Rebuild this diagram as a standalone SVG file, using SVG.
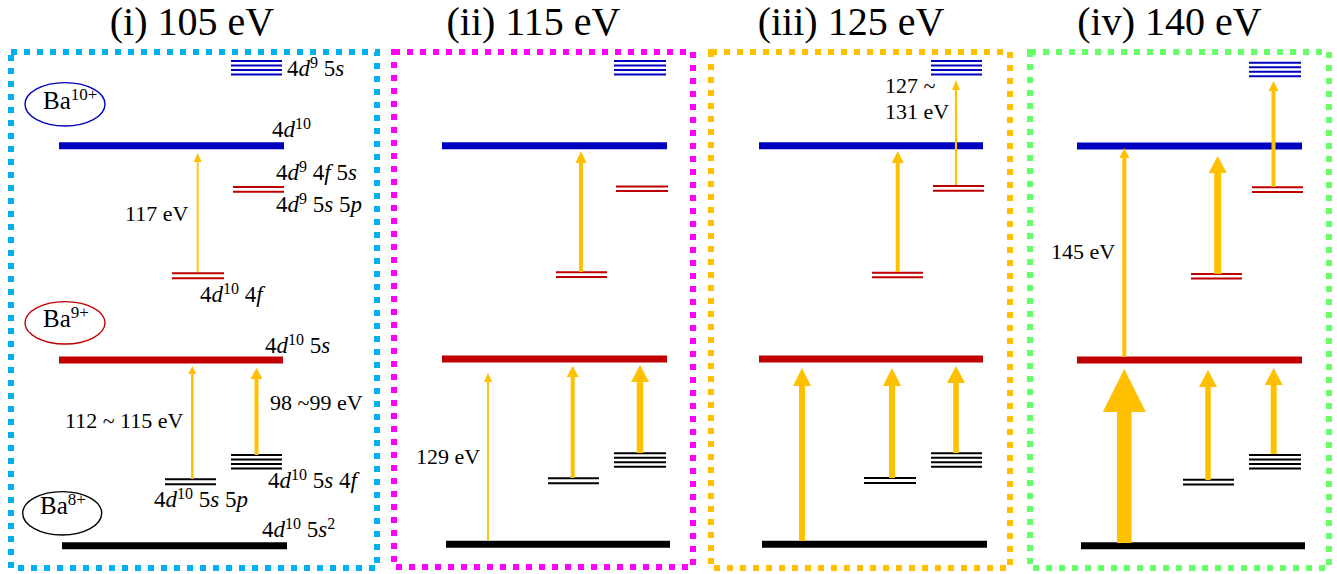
<svg xmlns="http://www.w3.org/2000/svg" width="1337" height="574" viewBox="0 0 1337 574" font-family="'Liberation Serif', 'DejaVu Serif', 'Times New Roman', serif">
<style>
text{font-family:'Liberation Serif','DejaVu Serif','Times New Roman',serif;fill:#000}
.title{font-size:40px;text-anchor:middle}
.lbl{font-size:22px}
.cfg{font-size:23px}
.ba{font-size:25px}
.i{font-style:italic}
.sup{font-size:16px}
.bsup{font-size:17px}
.frame{fill:none;stroke-width:6;stroke-dasharray:6 7}
.bar{stroke-width:7;fill:none}
.thin{stroke-width:2;fill:none}
.blue{stroke:#0000c0}
.red{stroke:#c00000}
.blk{stroke:#000}
.arr{fill:#ffc000;stroke:none}
.ell{fill:none;stroke-width:1.4}
</style>
<rect width="1337" height="574" fill="#fff"/>

<g id="titles">
<text class="title" x="192" y="35">(i) 105 eV</text>
<text class="title" x="533.5" y="35">(ii) 115 eV</text>
<text class="title" x="851" y="35">(iii) 125 eV</text>
<text class="title" x="1169.5" y="35">(iv) 140 eV</text>
</g>

<g id="frames">
<rect class="frame" x="11" y="52" width="366" height="516" stroke="#00b0f0"/>
<rect class="frame" x="394" y="52" width="299" height="515" stroke="#ff00ff"/>
<rect class="frame" x="711" y="52" width="299" height="516" stroke="#ffc000"/>
<rect class="frame" x="1030" y="52" width="299" height="516" stroke="#66ff66"/>
</g>

<g id="panel-i">
<g id="ion-ba10"><ellipse class="ell" cx="65" cy="104.3" rx="40" ry="21.7" stroke="#0000c0"/><text class="ba" x="43" y="109">Ba<tspan class="bsup" dy="-9">10+</tspan></text></g>
<g id="ion-ba9"><ellipse class="ell" cx="65" cy="322.8" rx="40" ry="21.2" stroke="#c00000"/><text class="ba" x="43" y="327">Ba<tspan class="bsup" dy="-9">9+</tspan></text></g>
<g id="ion-ba8"><ellipse class="ell" cx="62.2" cy="513.3" rx="39.5" ry="21.7" stroke="#000"/><text class="ba" x="40" y="514">Ba<tspan class="bsup" dy="-9">8+</tspan></text></g>

<g id="i-4d9-5s"><path class="thin blue" d="M231 61H282M231 65.5H282M231 70H282M231 74.5H282"/>
<text class="cfg" x="287" y="76">4<tspan class="i">d</tspan><tspan class="sup" dy="-8">9</tspan><tspan dy="8"> 5</tspan><tspan class="i">s</tspan></text></g>
<g id="i-4d10"><path class="bar blue" d="M59 145.7H284"/><text class="cfg" x="272" y="137">4<tspan class="i">d</tspan><tspan class="sup" dy="-8">10</tspan></text></g>
<g id="i-4d9-4f5s"><path class="thin red" d="M233 187H284M233 191.7H284"/>
<text class="cfg" x="276" y="180">4<tspan class="i">d</tspan><tspan class="sup" dy="-8">9</tspan><tspan dy="8"> 4</tspan><tspan class="i">f</tspan> 5<tspan class="i">s</tspan></text>
<text class="cfg" x="276" y="212">4<tspan class="i">d</tspan><tspan class="sup" dy="-8">9</tspan><tspan dy="8"> 5</tspan><tspan class="i">s</tspan> 5<tspan class="i">p</tspan></text></g>
<g id="i-4d10-4f"><path class="thin red" d="M172 273.3H224M172 278.3H224"/>
<text class="cfg" x="200" y="302">4<tspan class="i">d</tspan><tspan class="sup" dy="-8">10</tspan><tspan dy="8"> 4</tspan><tspan class="i">f</tspan></text></g>
<g id="i-4d10-5s"><path class="bar red" d="M59 360H283"/>
<text class="cfg" x="265" y="353">4<tspan class="i">d</tspan><tspan class="sup" dy="-8">10</tspan><tspan dy="8"> 5</tspan><tspan class="i">s</tspan></text></g>
<g id="i-4d10-5s4f"><path class="thin blk" d="M231 455H282M231 459.5H282M231 464H282M231 468.5H282"/>
<text class="cfg" x="268" y="488">4<tspan class="i">d</tspan><tspan class="sup" dy="-8">10</tspan><tspan dy="8"> 5</tspan><tspan class="i">s</tspan> 4<tspan class="i">f</tspan></text></g>
<g id="i-4d10-5s5p"><path class="thin blk" d="M165 479.3H216M165 484.3H216"/>
<text class="cfg" x="154" y="507">4<tspan class="i">d</tspan><tspan class="sup" dy="-8">10</tspan><tspan dy="8"> 5</tspan><tspan class="i">s</tspan> 5<tspan class="i">p</tspan></text></g>
<g id="i-4d10-5s2"><path class="bar blk" d="M62 545.7H287"/>
<text class="cfg" x="262" y="537">4<tspan class="i">d</tspan><tspan class="sup" dy="-8">10</tspan><tspan dy="8"> 5</tspan><tspan class="i">s</tspan><tspan class="sup" dy="-8">2</tspan></text></g>
</g>

<g id="panel-ii">
<g id="ii-4d9-5s"><path class="thin blue" d="M614 61H666M614 65.5H666M614 70H666M614 74.5H666"/></g>
<g id="ii-4d10"><path class="bar blue" d="M442 145.7H667"/></g>
<g id="ii-4d9-4f5s"><path class="thin red" d="M616 186.5H668M616 191H668"/></g>
<g id="ii-4d10-4f"><path class="thin red" d="M556 272.3H607M556 277H607"/></g>
<g id="ii-4d10-5s"><path class="bar red" d="M442 359H667"/></g>
<g id="ii-4d10-5s4f"><path class="thin blk" d="M614 453.3H666M614 457.8H666M614 462.3H666M614 466.8H666"/></g>
<g id="ii-4d10-5s5p"><path class="thin blk" d="M548 478.3H599M548 483.3H599"/></g>
<g id="ii-4d10-5s2"><path class="bar blk" d="M446 544.3H670"/></g>
</g>

<g id="panel-iii">
<g id="iii-4d9-5s"><path class="thin blue" d="M931 61H982M931 65.5H982M931 70H982M931 74.5H982"/></g>
<g id="iii-4d10"><path class="bar blue" d="M759 145.7H983"/></g>
<g id="iii-4d9-4f5s"><path class="thin red" d="M933 186H984M933 190.7H984"/></g>
<g id="iii-4d10-4f"><path class="thin red" d="M872 272.7H923M872 277.2H923"/></g>
<g id="iii-4d10-5s"><path class="bar red" d="M759 359H983"/></g>
<g id="iii-4d10-5s4f"><path class="thin blk" d="M931 453.3H982M931 457.8H982M931 462.3H982M931 466.8H982"/></g>
<g id="iii-4d10-5s5p"><path class="thin blk" d="M864 478H916M864 483H916"/></g>
<g id="iii-4d10-5s2"><path class="bar blk" d="M762 544.3H987"/></g>
</g>

<g id="panel-iv">
<g id="iv-4d9-5s"><path class="thin blue" d="M1249 62.7H1301M1249 67.2H1301M1249 71.7H1301M1249 76.2H1301"/></g>
<g id="iv-4d10"><path class="bar blue" d="M1077 146H1302"/></g>
<g id="iv-4d9-4f5s"><path class="thin red" d="M1252 187.3H1303M1252 192H1303"/></g>
<g id="iv-4d10-4f"><path class="thin red" d="M1191 274H1242M1191 278.5H1242"/></g>
<g id="iv-4d10-5s"><path class="bar red" d="M1077 360H1302"/></g>
<g id="iv-4d10-5s4f"><path class="thin blk" d="M1249 455H1301M1249 459.5H1301M1249 464H1301M1249 468.5H1301"/></g>
<g id="iv-4d10-5s5p"><path class="thin blk" d="M1183 479.7H1234M1183 484.5H1234"/></g>
<g id="iv-4d10-5s2"><path class="bar blk" d="M1081 545.7H1305"/></g>
</g>

<g id="connectors">
<path class="arr" d="M196.8 272V162H193.7L197.7 153L201.7 162H198.6V272Z"/>
<path class="arr" d="M191 479V374H188.3L192.3 366L196.3 374H193.6V479Z"/>
<path class="arr" d="M254.5 455V379H250.5L256.5 368L262.5 379H258.5V455Z"/>
<path class="arr" d="M579 272V163H575.5L581 151L586.5 163H583V272Z"/>
<path class="arr" d="M487.1 541V382H484L488 373L492 382H488.9V541Z"/>
<path class="arr" d="M570.7 478V377H566.7L572.7 366L578.7 377H574.7V478Z"/>
<path class="arr" d="M636.75 453V382H631L640 365L649 382H643.25V453Z"/>
<path class="arr" d="M954.9 185V90H952L956 80L960 90H957.1V185Z"/>
<path class="arr" d="M895.7 272V163H891.7L897.7 151L903.7 163H899.7V272Z"/>
<path class="arr" d="M799 541V386H793L802 368L811 386H805V541Z"/>
<path class="arr" d="M889 478V386H883L892 368L901 386H895V478Z"/>
<path class="arr" d="M953.25 453V383H947L956 366L965 383H958.75V453Z"/>
<path class="arr" d="M1271.5 187V91H1268.5L1273.5 81L1278.5 91H1275.5V187Z"/>
<path class="arr" d="M1214.2 274V173H1208.7L1217.7 156L1226.7 173H1221.2V274Z"/>
<path class="arr" d="M1122.3 357V158H1119.3L1124.3 148L1129.3 158H1126.3V357Z"/>
<path class="arr" d="M1117.05 543V412H1102.8L1124.3 369L1145.8 412H1131.55V543Z"/>
<path class="arr" d="M1205.25 480V387H1199L1208 370L1217 387H1210.75V480Z"/>
<path class="arr" d="M1270.7 454V385H1264.7L1273.7 368L1282.7 385H1276.7V454Z"/>
</g>

<g id="energy-labels">
<text class="lbl" x="125" y="221">117 eV</text>
<text class="lbl" x="270" y="410">98 ~99 eV</text>
<text class="lbl" x="65" y="428">112 ~ 115 eV</text>
<text class="lbl" x="416" y="464">129 eV</text>
<text class="lbl" x="885" y="93">127 ~</text>
<text class="lbl" x="885" y="119">131 eV</text>
<text class="lbl" x="1051" y="259">145 eV</text>
</g>
</svg>
